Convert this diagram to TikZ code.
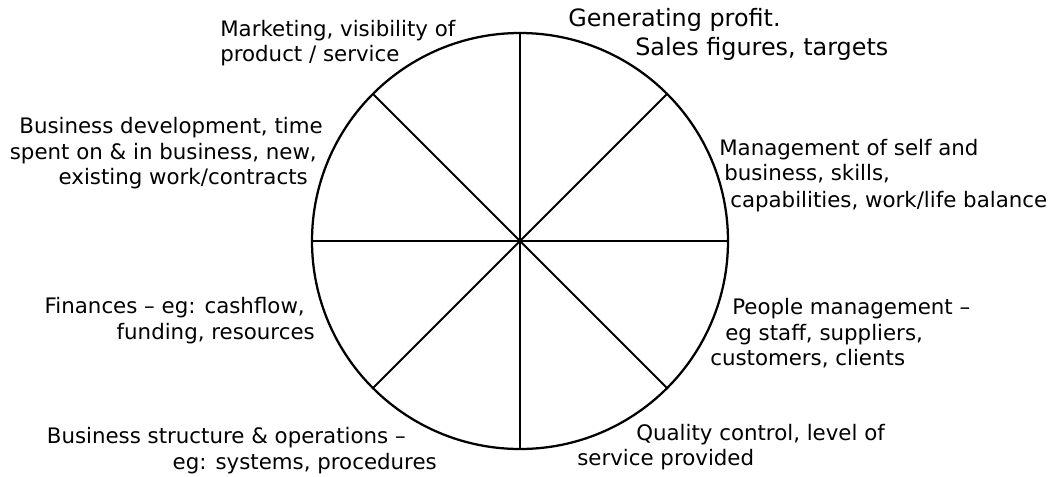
\documentclass[tikz,border=0pt]{standalone}
\usepackage{fontspec}
\setmainfont{DejaVu Sans}
\begin{document}
\begin{tikzpicture}[x=0.75pt,y=-0.75pt,
  lbl/.style={font=\fontsize{16}{19}\selectfont, inner sep=0pt, anchor=base west},
  biglbl/.style={font=\fontsize{17.9}{21}\selectfont, inner sep=0pt, anchor=base west},
  rim/.style={line width=1.7pt},
  spoke/.style={line width=1.4pt}]
\useasboundingbox (0,0) rectangle (1059,476);
\coordinate (c) at (520,241);
\coordinate (top) at (520,33);
\coordinate (bot) at (520,449);
\coordinate (lft) at (312,241);
\coordinate (rgt) at (728,241);
\coordinate (ul) at (373,94);
\coordinate (lr) at (667,388);
\coordinate (ur) at (667,94);
\coordinate (ll) at (373,388);
\draw[spoke] (top) -- (bot);
\draw[spoke] (lft) -- (rgt);
\draw[spoke] (ul) -- (lr);
\draw[spoke] (ur) -- (ll);
\draw[rim] (c) circle (156pt);
% top left
\node[lbl] (m1) at (220,36) {Marketing, visibility of};
\node[lbl] (m2) at (220,61) {product / service};
% top right
\node[biglbl] (g1) at (568,26) {Generating profit.};
\node[biglbl] (g2) at (635,55) {Sales figures, targets};
% left upper
\node[lbl, anchor=base east] (b1) at (323,133) {Business development, time};
\node[lbl, anchor=base east] (b2) at (317,159) {spent on \& in business, new,};
\node[lbl, anchor=base east] (b3) at (308,184) {existing work/contracts};
% right upper
\node[lbl] (s1) at (719,155) {Management of self and};
\node[lbl] (s2) at (724,180) {business, skills,};
\node[lbl] (s3) at (730,207) {capabilities, work/life balance};
% left lower
\node[lbl, anchor=base east] (f1) at (305,313) {Finances – eg: cashflow,};
\node[lbl, anchor=base east] (f2) at (315,339) {funding, resources};
% right lower
\node[lbl] (p1) at (732,314) {People management –};
\node[lbl] (p2) at (725,340) {eg staff, suppliers,};
\node[lbl] (p3) at (710,365) {customers, clients};
% bottom left
\node[lbl, anchor=base east] (o1) at (406,443) {Business structure \& operations –};
\node[lbl, anchor=base east] (o2) at (437,469) {eg: systems, procedures};
% bottom right
\node[lbl] (q1) at (636,440) {Quality control, level of};
\node[lbl] (q2) at (577,465) {service provided};
\end{tikzpicture}
\end{document}
